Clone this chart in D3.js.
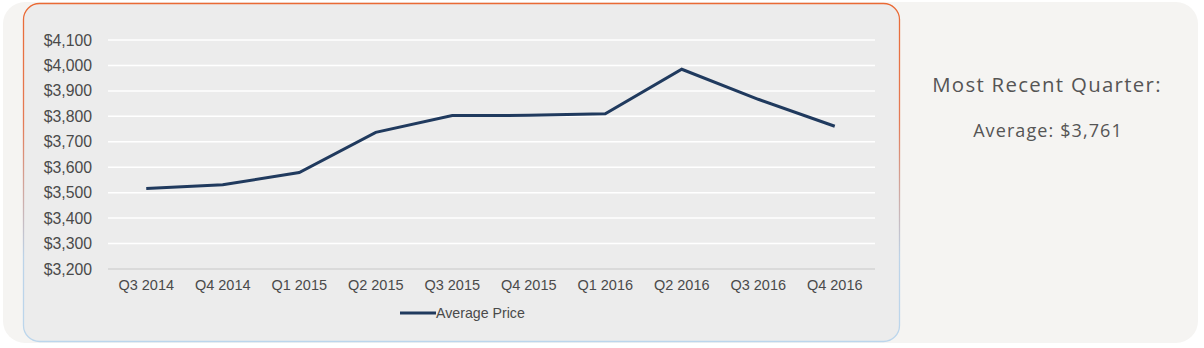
<!DOCTYPE html>
<html>
<head>
<meta charset="utf-8">
<script src="https://cdn.jsdelivr.net/npm/d3@7"></script>
<style>
  html, body { margin: 0; padding: 0; background: #ffffff; }
  svg { display: block; }
</style>
</head>
<body>
<svg id="chart" width="1204" height="348"></svg>
<script>
// Quarterly average price
const quarters = ["Q3 2014", "Q4 2014", "Q1 2015", "Q2 2015", "Q3 2015",
                  "Q4 2015", "Q1 2016", "Q2 2016", "Q3 2016", "Q4 2016"];
const averagePrice = [3516, 3531, 3579, 3737, 3803, 3804, 3810, 3985, 3867, 3761];
const yTicks = [3200, 3300, 3400, 3500, 3600, 3700, 3800, 3900, 4000, 4100];
const seriesName = "Average Price";
const summaryTitle = "Most Recent Quarter:";

const svg = d3.select("#chart");
const fmt = d3.format("$,");
const axisFont = "Helvetica, Arial, 'Liberation Sans', sans-serif";

// Outer card
svg.append("rect")
  .attr("x", 3).attr("y", 2).attr("width", 1195).attr("height", 341)
  .attr("rx", 22).attr("fill", "#f5f4f2");

// Border gradient for chart card
const defs = svg.append("defs");
const grad = defs.append("linearGradient")
  .attr("id", "cardBorder").attr("x1", 0).attr("y1", 0).attr("x2", 0).attr("y2", 1);
grad.append("stop").attr("offset", "0%").attr("stop-color", "#ea6a35");
grad.append("stop").attr("offset", "35%").attr("stop-color", "#e47a55");
grad.append("stop").attr("offset", "75%").attr("stop-color", "#bcd3e8");
grad.append("stop").attr("offset", "100%").attr("stop-color", "#bcd6ec");

svg.append("rect")
  .attr("x", 23.5).attr("y", 3.5).attr("width", 876).attr("height", 338)
  .attr("rx", 16).attr("fill", "#ececec")
  .attr("stroke", "url(#cardBorder)").attr("stroke-width", 1.3);

// Scales
const x = d3.scaleBand().domain(quarters).range([108, 873]);
const y = d3.scaleLinear().domain([3200, 4100]).range([269, 40]);

// Gridlines
const grid = svg.append("g");
grid.selectAll("line").data(yTicks).join("line")
  .attr("x1", 108).attr("x2", 875)
  .attr("y1", d => y(d)).attr("y2", d => y(d))
  .attr("stroke", d => d === 3200 ? "#d4d4d4" : "#ffffff")
  .attr("stroke-width", 1.5);

// Y axis
const yAxis = d3.axisLeft(y).tickValues(yTicks).tickFormat(fmt).tickSize(0).tickPadding(0);
svg.append("g").attr("transform", "translate(92,0)").call(yAxis)
  .call(g => g.select(".domain").remove())
  .selectAll("text")
  .attr("font-family", axisFont)
  .attr("font-size", 15.8).attr("fill", "#4a4a4a");

// X axis
const xAxis = d3.axisBottom(x).tickSize(0).tickPadding(0);
svg.append("g").attr("transform", "translate(0,280)").call(xAxis)
  .call(g => g.select(".domain").remove())
  .selectAll("text")
  .attr("font-family", axisFont)
  .attr("font-size", 14.5).attr("fill", "#4a4a4a");

// Line
const line = d3.line()
  .x((d, i) => x(quarters[i]) + x.bandwidth() / 2)
  .y(d => y(d));
svg.append("path").datum(averagePrice)
  .attr("d", line).attr("fill", "none")
  .attr("stroke", "#203a5e").attr("stroke-width", 3)
  .attr("stroke-linejoin", "miter");

// Legend
const legend = svg.append("g").attr("transform", "translate(400,313)");
legend.append("line").attr("x1", 0).attr("x2", 36).attr("y1", 0).attr("y2", 0)
  .attr("stroke", "#203a5e").attr("stroke-width", 3);
legend.append("text").attr("x", 36).attr("y", 5)
  .attr("font-family", axisFont)
  .attr("font-size", 14.2).attr("fill", "#4a4a4a").text(seriesName);

// Summary panel
svg.append("text").attr("x", 1047).attr("y", 92).attr("text-anchor", "middle")
  .attr("font-family", "'Open Sans', Lato, sans-serif")
  .attr("font-size", 20.4).attr("letter-spacing", 1.3)
  .attr("fill", "#555555").text(summaryTitle);
svg.append("text").attr("x", 1048).attr("y", 137).attr("text-anchor", "middle")
  .attr("font-family", "'Open Sans', Lato, sans-serif")
  .attr("font-size", 18).attr("letter-spacing", 1.1)
  .attr("fill", "#555555")
  .text("Average: " + fmt(averagePrice[averagePrice.length - 1]));
</script>
</body>
</html>
